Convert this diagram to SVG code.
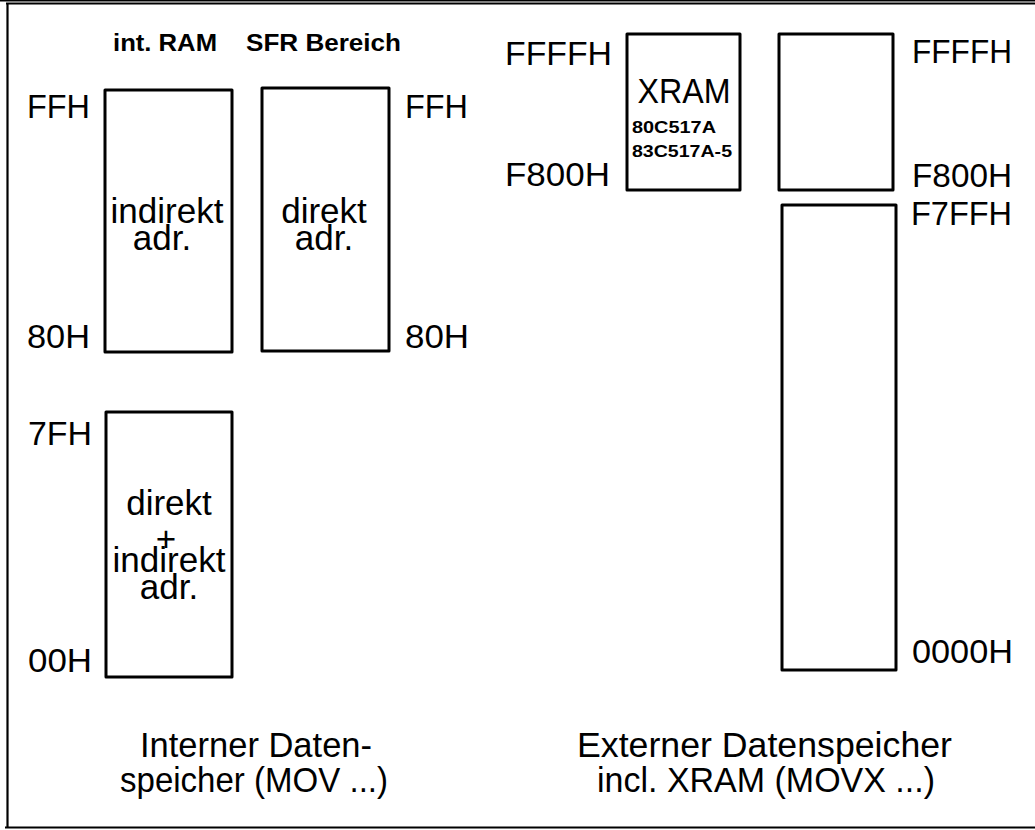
<svg xmlns="http://www.w3.org/2000/svg" width="1035" height="830" viewBox="0 0 1035 830">
<style>
.box{fill:#fff;stroke:#000;stroke-width:3;stroke-linejoin:round}
.frame{fill:none;stroke:#000}
.hex{font-family:"Liberation Sans",Arial,sans-serif;font-size:34px;fill:#000}
.in{font-family:"Liberation Sans",Arial,sans-serif;font-size:35px;fill:#000;text-anchor:middle}
.hd{font-family:"Liberation Sans",Arial,sans-serif;font-size:23px;font-weight:bold;fill:#000}
.sm{font-family:"Liberation Sans",Arial,sans-serif;font-size:16px;font-weight:bold;fill:#000}
.cap{font-family:"Liberation Sans",Arial,sans-serif;font-size:35px;fill:#000}
</style>
<rect width="1035" height="830" fill="#fff"/>
<g id="frame">
<line class="frame" x1="0" y1="0.8" x2="1035" y2="0.8" stroke-width="1.6"/>
<line class="frame" x1="6" y1="3.5" x2="1035" y2="3.5" stroke-width="2"/>
<line class="frame" x1="7.5" y1="3" x2="7.5" y2="828" stroke-width="2.2"/>
<line class="frame" x1="5" y1="827.5" x2="1035" y2="827.5" stroke-width="2"/>
</g>
<g id="headers">
<text class="hd" x="113" y="51" textLength="104" lengthAdjust="spacingAndGlyphs">int. RAM</text>
<text class="hd" x="246" y="51" textLength="155" lengthAdjust="spacingAndGlyphs">SFR Bereich</text>
</g>
<g id="int-ram-upper">
<rect class="box" x="105" y="90" width="127" height="262"/>
<text class="in" x="167" y="223" textLength="113" lengthAdjust="spacingAndGlyphs">indirekt</text>
<text class="in" x="162" y="250">adr.</text>
<text class="hex" x="27" y="118" textLength="63" lengthAdjust="spacingAndGlyphs">FFH</text>
<text class="hex" x="27" y="348" textLength="63" lengthAdjust="spacingAndGlyphs">80H</text>
</g>
<g id="sfr">
<rect class="box" x="262" y="88" width="127" height="263"/>
<text class="in" x="324" y="223">direkt</text>
<text class="in" x="324" y="250">adr.</text>
<text class="hex" x="405" y="118" textLength="63" lengthAdjust="spacingAndGlyphs">FFH</text>
<text class="hex" x="405" y="348" textLength="64" lengthAdjust="spacingAndGlyphs">80H</text>
</g>
<g id="int-ram-lower">
<rect class="box" x="106" y="412" width="126" height="265"/>
<text class="in" x="169" y="515">direkt</text>
<text class="in" x="166" y="551">+</text>
<text class="in" x="169" y="572" textLength="113" lengthAdjust="spacingAndGlyphs">indirekt</text>
<text class="in" x="169" y="599">adr.</text>
<text class="hex" x="28" y="445" textLength="64" lengthAdjust="spacingAndGlyphs">7FH</text>
<text class="hex" x="28" y="672" textLength="64" lengthAdjust="spacingAndGlyphs">00H</text>
</g>
<g id="xram">
<rect class="box" x="627" y="34" width="113" height="156"/>
<text class="in" x="684" y="103" font-size="37" textLength="93" lengthAdjust="spacingAndGlyphs">XRAM</text>
<text class="sm" x="632" y="133" textLength="84" lengthAdjust="spacingAndGlyphs">80C517A</text>
<text class="sm" x="632" y="157" textLength="100" lengthAdjust="spacingAndGlyphs">83C517A-5</text>
<text class="hex" x="505" y="65" textLength="107" lengthAdjust="spacingAndGlyphs">FFFFH</text>
<text class="hex" x="505" y="186" textLength="105" lengthAdjust="spacingAndGlyphs">F800H</text>
</g>
<g id="ext-upper">
<rect class="box" x="779" y="34" width="114" height="156"/>
<text class="hex" x="912" y="63" textLength="100" lengthAdjust="spacingAndGlyphs">FFFFH</text>
<text class="hex" x="912" y="187" textLength="100" lengthAdjust="spacingAndGlyphs">F800H</text>
</g>
<g id="ext-lower">
<rect class="box" x="782" y="205" width="114" height="465"/>
<text class="hex" x="911" y="225" textLength="101" lengthAdjust="spacingAndGlyphs">F7FFH</text>
<text class="hex" x="912" y="663" textLength="101" lengthAdjust="spacingAndGlyphs">0000H</text>
</g>
<g id="captions">
<text class="cap" x="140" y="757" textLength="232" lengthAdjust="spacingAndGlyphs">Interner Daten-</text>
<text class="cap" x="120" y="792" textLength="268" lengthAdjust="spacingAndGlyphs">speicher (MOV ...)</text>
<text class="cap" x="577" y="757" textLength="375" lengthAdjust="spacingAndGlyphs">Externer Datenspeicher</text>
<text class="cap" x="597" y="792" textLength="338" lengthAdjust="spacingAndGlyphs">incl. XRAM (MOVX ...)</text>
</g>
</svg>
